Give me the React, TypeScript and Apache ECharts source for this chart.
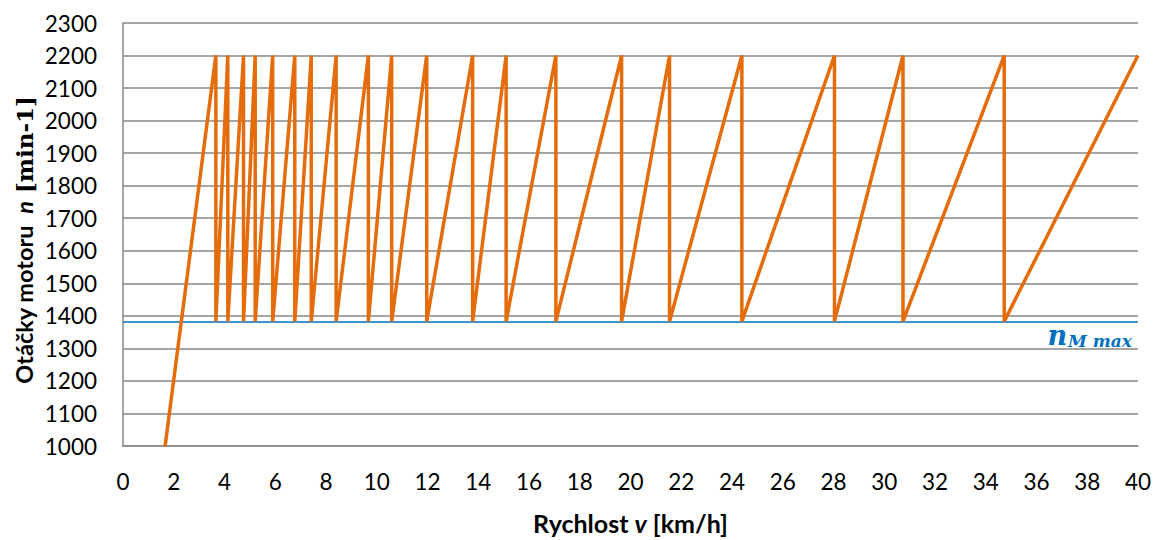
import React, { useEffect, useRef } from "react";
import * as echarts from "echarts";

// Speed [km/h] and engine speed [min-1] of the shift diagram
const speedKmh: number[] = [
  1.66, 3.66, 3.66, 4.13, 4.13, 4.75, 4.75, 5.21, 5.21, 5.9, 5.9, 6.77, 6.77,
  7.42, 7.42, 8.4, 8.4, 9.67, 9.67, 10.59, 10.59, 11.97, 11.97, 13.78, 13.78,
  15.1, 15.1, 17.06, 17.06, 19.65, 19.65, 21.54, 21.54, 24.39, 24.39, 28.04,
  28.04, 30.74, 30.74, 34.73, 34.73, 40,
];
const engineRpm: number[] = [
  1000, 2200, 1383, 2200, 1383, 2200, 1383, 2200, 1383, 2200, 1383, 2200, 1383,
  2200, 1383, 2200, 1383, 2200, 1383, 2200, 1383, 2200, 1383, 2200, 1383, 2200,
  1383, 2200, 1383, 2200, 1383, 2200, 1383, 2200, 1383, 2200, 1383, 2200, 1383,
  2200, 1383, 2200,
];
const nMaxTorque = 1383;
const xTicks = { min: 0, max: 40, interval: 2 };
const yTicks = { min: 1000, max: 2300, interval: 100 };

const FONT = "Lato, 'Open Sans', sans-serif";
const SERIF = "'DejaVu Serif', 'Liberation Serif', serif";

export default function App() {
  const ref = useRef<HTMLDivElement>(null);
  useEffect(() => {
    if (!ref.current) return;
    const chart = echarts.init(ref.current, null, { renderer: "svg" });
    const data = speedKmh.map((v, i) => [v, engineRpm[i]]);
    chart.setOption({
      animation: false,
      backgroundColor: "#ffffff",
      grid: { left: 123, right: 15.5, top: 23, bottom: 87.3, containLabel: false },
      xAxis: {
        type: "value",
        min: xTicks.min,
        max: xTicks.max,
        interval: xTicks.interval,
        axisLine: { show: true, lineStyle: { color: "#898989", width: 1.5 } },
        axisTick: { show: false },
        splitLine: { show: false },
        axisLabel: { margin: 24, fontFamily: FONT, fontSize: 22.5, color: "#000", formatter: (v: number) => String(v) },
        name: "{a|Rychlost }{b|v}{a| [km/h]}",
        nameLocation: "middle",
        nameGap: 64,
        nameTextStyle: {
          rich: {
            a: { fontFamily: FONT, fontSize: 25, fontWeight: "bold", color: "#000" },
            b: { fontFamily: FONT, fontSize: 25, fontWeight: "bold", fontStyle: "italic", color: "#000" },
          },
        },
      },
      yAxis: {
        type: "value",
        min: yTicks.min,
        max: yTicks.max,
        interval: yTicks.interval,
        axisLine: { show: true, lineStyle: { color: "#898989", width: 1.5 } },
        axisTick: { show: false },
        splitLine: { show: true, lineStyle: { color: "#898989", width: 1.5 } },
        axisLabel: { margin: 26, fontFamily: FONT, fontSize: 22.5, color: "#000", formatter: (v: number) => String(v) },
      },
      graphic: [
        {
          type: "text",
          x: 24,
          y: 240,
          rotation: Math.PI / 2,
          style: {
            text: "{a|Otáčky motoru  }{b|n}{c| [min-1]}",
            align: "center",
            verticalAlign: "middle",
            rich: {
              a: { fontFamily: FONT, fontSize: 23.5, fontWeight: "bold", fill: "#000" },
              b: { fontFamily: FONT, fontSize: 23.5, fontWeight: "bold", fontStyle: "italic", fill: "#000" },
              c: { fontFamily: SERIF, fontSize: 23, fontWeight: "bold", fill: "#000" },
            },
          },
        },
      ],
      series: [
        {
          type: "line",
          data,
          symbol: "none",
          lineStyle: { color: "#E46C0A", width: 3.5 },
          silent: true,
          z: 3,
          markLine: {
            silent: true,
            symbol: ["none", "none"],
            lineStyle: { color: "#0070C0", width: 1.5, type: "solid" },
            label: {
              show: true,
              position: "insideEndBottom",
              distance: [6, 0],
              formatter: "{n|n}{s|M max}",
              rich: {
                n: { fontFamily: SERIF, fontSize: 27, fontWeight: "bold", fontStyle: "italic", color: "#0070C0", lineHeight: 28, verticalAlign: "middle" },
                s: { fontFamily: SERIF, fontSize: 17, fontWeight: "bold", fontStyle: "italic", color: "#0070C0", lineHeight: 28, verticalAlign: "bottom", padding: [0, 0, 0, 1] },
              },
            },
            data: [{ yAxis: nMaxTorque }],
            z: 2,
          },
        },
      ],
    });
    return () => chart.dispose();
  }, []);
  return (
    <div
      ref={ref}
      style={{ position: "fixed", left: 0, top: 0, width: 1154, height: 540 }}
    />
  );
}
